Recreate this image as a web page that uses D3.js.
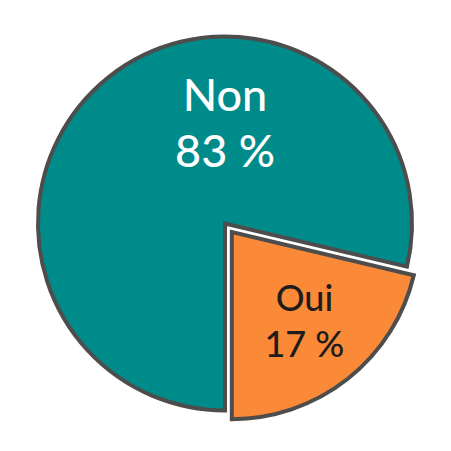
<!DOCTYPE html>
<html>
  <head>
    <meta charset="utf-8" />
    <title>Non / Oui</title>
    <script src="https://cdn.jsdelivr.net/npm/d3@7"></script>
    <style type="text/css">
      body { margin: 0; background: #fff; }
      text { font-family: Lato, "Open Sans", sans-serif; font-weight: 500; }
    </style>
  </head>
  <body>
    <svg id="pie" width="451" height="451"></svg>
    <script type="text/javascript">
      // categories and values
      var categories = ['Non', 'Oui'];
      var percentLabels = ['83 %', '17 %'];
      // sector sizes as they are drawn in the picture
      var sliceValues = [78.7, 21.3];
      var fills = ['#008b8b', '#fb8a38'];
      var textFills = ['#ffffff', '#1d1d1d'];

      var cx = 225, cy = 223.5, R = 187;
      var svg = d3.select('#pie');

      var data = categories.map((c, i) => ({
        name: c, value: sliceValues[i], pct: percentLabels[i],
        fill: fills[i], text: textFills[i]
      }));

      var pie = d3.pie().sort(null).value((d) => d.value)
        .startAngle(Math.PI).endAngle(3 * Math.PI);
      var arc = d3.arc().innerRadius(0).outerRadius(R);
      var arcs = pie(data);

      // Oui is pulled out along its bisector
      var explode = [0, 11];

      var g = svg.selectAll('g.slice')
        .data(arcs)
        .enter()
        .append('g')
        .attr('class', 'slice')
        .attr('transform', (d, i) => {
          var a = (d.startAngle + d.endAngle) / 2;
          var dx = Math.sin(a) * explode[i], dy = -Math.cos(a) * explode[i];
          return 'translate(' + (cx + dx) + ',' + (cy + dy) + ')';
        });

      g.append('path')
        .attr('d', arc)
        .attr('fill', (d) => d.data.fill)
        .attr('stroke', '#4d4d4d')
        .attr('stroke-width', 4)
        .attr('stroke-linejoin', 'miter');

      // label placement: Non straight up, Oui along its bisector
      var labelPos = [
        { x: 0, y: -113, size: 45, gap: 56.5 },
        null
      ];
      arcs.forEach((d, i) => {
        if (!labelPos[i]) {
          var a = (d.startAngle + d.endAngle) / 2;
          labelPos[i] = { x: Math.sin(a) * 117, y: -Math.cos(a) * 117 - 13, size: 36, gap: 46 };
        }
      });

      g.each(function (d, i) {
        var p = labelPos[i];
        var t = d3.select(this).append('text')
          .attr('text-anchor', 'middle')
          .attr('fill', d.data.text)
          .style('font-size', p.size + 'px');
        t.append('tspan').attr('x', p.x).attr('y', p.y).text(d.data.name);
        t.append('tspan').attr('x', p.x).attr('y', p.y + p.gap).text(d.data.pct);
      });
    </script>
  </body>
</html>
